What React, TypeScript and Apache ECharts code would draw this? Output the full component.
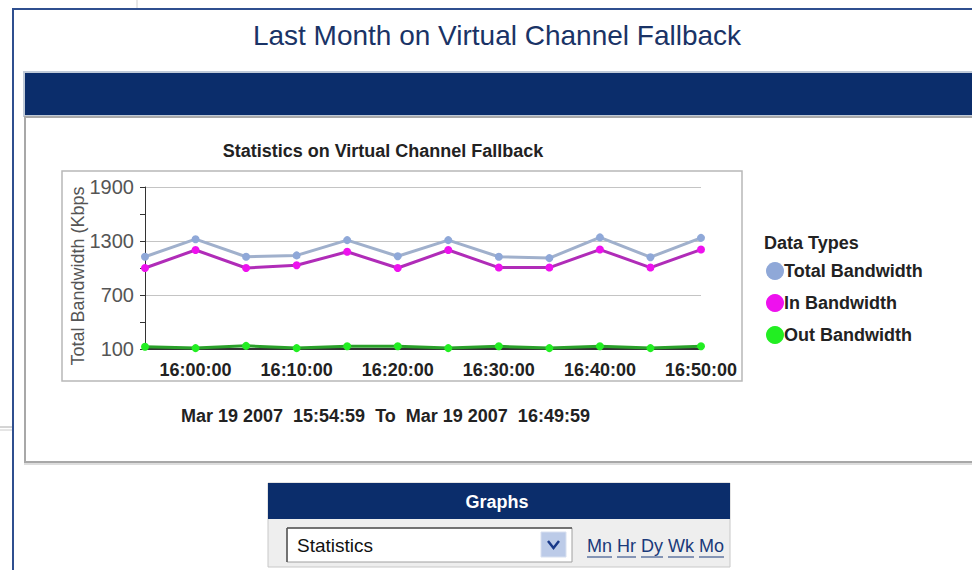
import React, { useEffect, useRef } from "react";
import * as echarts from "echarts";

const categories = [
  "15:55:00", "16:00:00", "16:05:00", "16:10:00", "16:15:00", "16:20:00",
  "16:25:00", "16:30:00", "16:35:00", "16:40:00", "16:45:00", "16:50:00",
];
const totalBandwidth = [1125, 1320, 1125, 1140, 1310, 1130, 1310, 1125, 1110, 1340, 1120, 1335];
const inBandwidth = [1000, 1200, 1000, 1030, 1180, 1000, 1200, 1005, 1005, 1205, 1005, 1205];
const outBandwidth = [125, 110, 135, 110, 130, 130, 110, 130, 110, 130, 110, 130];
const seriesNames = ["Total Bandwidth", "In Bandwidth", "Out Bandwidth"];
const yMin = 100;
const yMax = 1900;
const yStep = 600;
const linkWords = ["Mn", "Hr", "Dy", "Wk", "Mo"];

const FONT = "Liberation Sans, Arial, sans-serif";
const NAVY = "#0b2d6b";

export default function App() {
  const ref = useRef<HTMLDivElement>(null);

  useEffect(() => {
    if (!ref.current) return;
    const chart = echarts.init(ref.current, null, { renderer: "svg" });

    const linkX = [587, 617, 641, 668, 699];
    const linkW = [25, 19, 22, 26, 25];
    const links: any[] = [];
    linkWords.forEach((w, i) => {
      links.push({
        type: "text",
        x: linkX[i],
        y: 546,
        style: { text: w, fontSize: 18, fontFamily: FONT, fill: "#1a3a7a", textAlign: "left", textVerticalAlign: "middle" },
      });
      links.push({
        type: "line",
        shape: { x1: linkX[i], y1: 557, x2: linkX[i] + linkW[i], y2: 557 },
        style: { stroke: "#1a3a7a", lineWidth: 1 },
      });
    });

    chart.setOption({
      animation: false,
      backgroundColor: "#ffffff",
      grid: { left: 145, right: 271, top: 187, bottom: 221, containLabel: false },
      xAxis: {
        type: "category",
        data: categories,
        boundaryGap: false,
        axisLine: { show: true, lineStyle: { color: "#333", width: 2 } },
        axisTick: { show: false },
        splitLine: { show: false },
        axisLabel: {
          interval: (index: number) => index % 2 === 1,
          fontSize: 18,
          fontWeight: "bold",
          fontFamily: FONT,
          color: "#222",
          margin: 12,
        },
      },
      yAxis: {
        type: "value",
        min: yMin,
        max: yMax,
        interval: yStep,
        axisLine: { show: true, lineStyle: { color: "#333", width: 1 } },
        axisTick: { show: true, length: 5, lineStyle: { color: "#333" } },
        minorTick: { show: true, splitNumber: 2, length: 5, lineStyle: { color: "#333" } },
        splitLine: { show: true, lineStyle: { color: "#c4c4c4", width: 1 } },
        axisLabel: {
          fontSize: 20,
          fontFamily: FONT,
          color: "#555",
          margin: 11,
          formatter: (v: number) => String(v),
        },
      },
      legend: {
        orient: "vertical",
        left: 761,
        top: 257,
        icon: "circle",
        itemWidth: 18,
        itemHeight: 18,
        itemGap: 14,
        data: seriesNames,
        textStyle: { fontSize: 18, fontWeight: "bold", fontFamily: FONT, color: "#222", padding: [0, 0, 0, -5] },
      },
      series: [
        {
          name: seriesNames[0],
          type: "line",
          data: totalBandwidth,
          symbol: "circle",
          symbolSize: 8,
          itemStyle: { color: "#8fa8d8" },
          lineStyle: { color: "#a0b0cc", width: 3 },
          z: 3,
        },
        {
          name: seriesNames[1],
          type: "line",
          data: inBandwidth,
          symbol: "circle",
          symbolSize: 8,
          itemStyle: { color: "#ee11ee" },
          lineStyle: { color: "#b02cb8", width: 3 },
          z: 4,
        },
        {
          name: seriesNames[2],
          type: "line",
          data: outBandwidth,
          symbol: "circle",
          symbolSize: 8,
          itemStyle: { color: "#22ee22" },
          lineStyle: { color: "#2aa02a", width: 3 },
          z: 5,
        },
      ],
      graphic: [
        { type: "line", shape: { x1: 137, y1: 0, x2: 137, y2: 9 }, style: { stroke: "#d0d0d0", lineWidth: 1 } },
        { type: "line", shape: { x1: 12, y1: 9, x2: 972, y2: 9 }, style: { stroke: "#2f4f8f", lineWidth: 2 } },
        { type: "line", shape: { x1: 13, y1: 9, x2: 13, y2: 570 }, style: { stroke: "#2f4f8f", lineWidth: 2 } },
        { type: "line", shape: { x1: 0, y1: 427, x2: 12, y2: 427 }, style: { stroke: "#aaaaaa", lineWidth: 1 } },
        { type: "line", shape: { x1: 0, y1: 430, x2: 12, y2: 430 }, style: { stroke: "#cccccc", lineWidth: 1 } },
        {
          type: "text",
          x: 497,
          y: 35,
          style: { text: "Last Month on Virtual Channel Fallback", fontSize: 28, fontFamily: FONT, fill: "#1a3366", textAlign: "center", textVerticalAlign: "middle" },
        },
        { type: "rect", shape: { x: 24, y: 72, width: 950, height: 44 }, style: { fill: NAVY, stroke: "#c0cad8", lineWidth: 2 } },
        { type: "rect", shape: { x: 25, y: 117, width: 950, height: 345 }, style: { fill: "none", stroke: "#a8a8a8", lineWidth: 2 } },
        { type: "line", shape: { x1: 24, y1: 464, x2: 972, y2: 464 }, style: { stroke: "#dddddd", lineWidth: 2 } },
        { type: "rect", shape: { x: 62, y: 171, width: 680, height: 210 }, style: { fill: "none", stroke: "#b8b8b8", lineWidth: 1.5 } },
        {
          type: "text",
          x: 383,
          y: 151,
          style: { text: "Statistics on Virtual Channel Fallback", fontSize: 18, fontWeight: "bold", fontFamily: FONT, fill: "#222", textAlign: "center", textVerticalAlign: "middle" },
        },
        {
          type: "text",
          x: 78,
          y: 276,
          rotation: Math.PI / 2,
          style: { text: "Total Bandwidth (Kbps", fontSize: 18, fontFamily: FONT, fill: "#555", textAlign: "center", textVerticalAlign: "middle" },
        },
        {
          type: "text",
          x: 764,
          y: 243,
          style: { text: "Data Types", fontSize: 18, fontWeight: "bold", fontFamily: FONT, fill: "#222", textAlign: "left", textVerticalAlign: "middle" },
        },
        {
          type: "text",
          x: 181,
          y: 416,
          style: { text: "Mar 19 2007  15:54:59  To  Mar 19 2007  16:49:59", fontSize: 18, fontWeight: "bold", fontFamily: FONT, fill: "#222", textAlign: "left", textVerticalAlign: "middle" },
        },
        { type: "rect", shape: { x: 268, y: 483, width: 462, height: 84 }, style: { fill: "#eeeeee", stroke: "#c8c8c8", lineWidth: 1 } },
        { type: "rect", shape: { x: 268, y: 483, width: 462, height: 36 }, style: { fill: NAVY } },
        {
          type: "text",
          x: 497,
          y: 502,
          style: { text: "Graphs", fontSize: 18, fontWeight: "bold", fontFamily: FONT, fill: "#ffffff", textAlign: "center", textVerticalAlign: "middle" },
        },
        { type: "rect", shape: { x: 287, y: 528, width: 285, height: 34 }, style: { fill: "#ffffff", stroke: "#a0a0a0", lineWidth: 1 } },
        { type: "line", shape: { x1: 287, y1: 528, x2: 572, y2: 528 }, style: { stroke: "#555", lineWidth: 1.5 } },
        { type: "line", shape: { x1: 287, y1: 528, x2: 287, y2: 562 }, style: { stroke: "#555", lineWidth: 1.5 } },
        {
          type: "text",
          x: 297,
          y: 545,
          style: { text: "Statistics", fontSize: 19, fontFamily: FONT, fill: "#111", textAlign: "left", textVerticalAlign: "middle" },
        },
        { type: "rect", shape: { x: 541, y: 532, width: 25, height: 25 }, style: { fill: "#bccbe8", stroke: "#d8e0f0", lineWidth: 1 } },
        { type: "polyline", shape: { points: [[548, 541], [553.5, 548], [559, 541]] }, style: { stroke: "#1a3a8a", lineWidth: 2.5, fill: "none" } },
        ...links,
      ],
    });

    return () => chart.dispose();
  }, []);

  return (
    <div
      ref={ref}
      style={{ position: "absolute", left: 0, top: 0, width: 972, height: 570 }}
    />
  );
}
